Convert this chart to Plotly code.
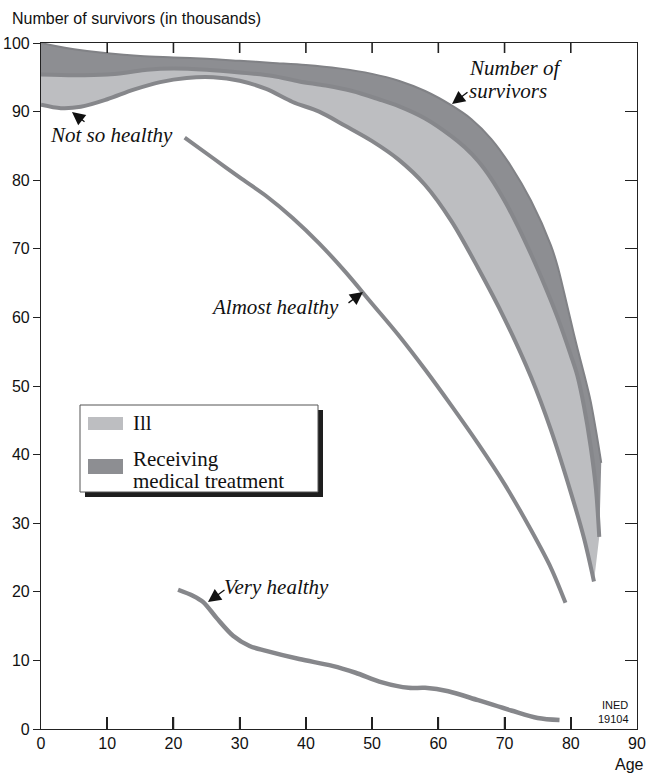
import plotly.graph_objects as go

# ---------------- data ----------------
total_age = [0, 2, 5, 10, 15, 20, 25, 30, 35, 40, 45, 50, 54, 58, 62, 65, 68, 71, 74, 77, 78, 79, 80, 81, 82, 83, 84, 84.6]
total_val = [100, 99.6, 99.1, 98.5, 98.1, 97.9, 97.7, 97.4, 97.1, 96.8, 96.3, 95.5, 94.5, 93.0, 90.9, 88.9, 86.0, 82.0, 77.0, 70.5, 67.5, 63.6, 59.5, 55.5, 51.8, 47.8, 42.4, 38.8]

treat_age = [0, 5, 10, 13, 16, 20, 25, 30, 35, 39, 43, 47, 51, 54, 58, 62, 64, 66, 68, 70, 72, 74, 76, 78, 80, 81, 82, 83, 83.8, 84.3]
treat_val = [95.4, 95.3, 95.4, 95.7, 96.1, 96.3, 96.1, 95.7, 95.2, 94.4, 93.8, 93.0, 91.8, 90.8, 89.0, 86.4, 84.8, 82.8, 80.2, 77.0, 73.3, 69.2, 64.8, 60.0, 54.5, 51.5, 47.0, 41.2, 35.0, 28.0]

notso_age = [0, 3, 6, 10, 14, 18, 22, 26, 30, 34, 38, 42, 46, 50, 54, 58, 62, 66, 70, 74, 77, 80, 82, 83.5]
notso_val = [91.0, 90.5, 90.7, 91.8, 93.2, 94.3, 94.9, 95.0, 94.5, 93.3, 91.4, 90.0, 87.9, 85.7, 83.0, 79.3, 74.0, 67.2, 59.8, 51.3, 43.6, 34.5, 27.8, 21.5]

almost_age = [21.7, 26, 30, 34, 38, 42, 46, 50, 54, 58, 62, 66, 70, 74, 77, 79.2]
almost_val = [86.2, 83.2, 80.4, 77.7, 74.5, 70.8, 66.6, 62.0, 57.4, 52.4, 47.1, 41.6, 35.7, 29.0, 23.5, 18.4]

very_age = [20.7, 23, 24.5, 26.5, 29, 31.5, 34, 39, 44, 47.5, 51.5, 55.5, 58, 61.5, 66, 71, 75, 78.3]
very_val = [20.3, 19.4, 18.5, 16.2, 13.6, 12.1, 11.4, 10.2, 9.2, 8.2, 6.8, 6.0, 6.0, 5.5, 4.2, 2.7, 1.6, 1.3]

x_ticks = [0, 10, 20, 30, 40, 50, 60, 70, 80, 90]
y_ticks = [0, 10, 20, 30, 40, 50, 60, 70, 80, 90, 100]

legend_labels = ["Ill", "Receiving", "medical treatment"]

# ---------------- styling ----------------
W, H = 647, 775
L, R, T, B = 41, 10, 43, 46
PW, PH = W - L - R, H - T - B

DARK = "#8d8e92"
LIGHT = "#bdbec1"
LINE = "#86878b"
SANS = "Liberation Sans, Arial, sans-serif"
SERIF = "Liberation Serif, Times New Roman, serif"
SM = 0.9


def pxp(x):
    return (x - L) / PW


def pyp(y):
    return (H - B - y) / PH


def dx(x):
    return (x - L) / PW * 90


def dy(y):
    return (H - B - y) / PH * 100


fig = go.Figure()

fig.add_trace(go.Scatter(x=notso_age, y=notso_val, mode="lines",
                         line=dict(color=LINE, width=4, shape="spline", smoothing=SM),
                         hoverinfo="skip", showlegend=False))
fig.add_trace(go.Scatter(x=treat_age, y=treat_val, mode="lines", fill="tonexty",
                         fillcolor=LIGHT,
                         line=dict(color=LINE, width=4, shape="spline", smoothing=SM),
                         hoverinfo="skip", showlegend=False))
fig.add_trace(go.Scatter(x=total_age, y=total_val, mode="lines", fill="tonexty",
                         fillcolor=DARK,
                         line=dict(color="#818286", width=2, shape="spline", smoothing=SM),
                         hoverinfo="skip", showlegend=False))
fig.add_trace(go.Scatter(x=almost_age, y=almost_val, mode="lines",
                         line=dict(color=LINE, width=4, shape="spline", smoothing=SM),
                         hoverinfo="skip", showlegend=False))
fig.add_trace(go.Scatter(x=very_age, y=very_val, mode="lines",
                         line=dict(color=LINE, width=4.5, shape="spline", smoothing=SM),
                         hoverinfo="skip", showlegend=False))
fig.add_trace(go.Scatter(x=[0, 90], y=[0, 100], xaxis="x2", yaxis="y2", mode="markers",
                         marker=dict(opacity=0), hoverinfo="skip", showlegend=False))

axis_common = dict(showgrid=False, zeroline=False, showline=True, linecolor="#222",
                   linewidth=1.2, tickcolor="#222", automargin=False)

fig.update_layout(
    width=W, height=H,
    margin=dict(l=L, r=R, t=T, b=B, autoexpand=False),
    paper_bgcolor="white", plot_bgcolor="white",
    font=dict(family=SANS, size=16, color="#111"),
    xaxis=dict(range=[0, 90], tickvals=x_ticks, ticks="inside", ticklen=12, tickwidth=1.6,
               mirror=True, tickfont=dict(family=SANS, size=16, color="#111"), **axis_common),
    yaxis=dict(range=[0, 100], tickvals=y_ticks, ticks="outside", ticklen=7, tickwidth=1.2,
               tickfont=dict(family=SANS, size=16, color="#111"), **axis_common),
    xaxis2=dict(range=[0, 90], overlaying="x", side="top", visible=False),
    yaxis2=dict(range=[0, 100], tickvals=y_ticks, ticks="inside", ticklen=12, tickwidth=1.2,
                overlaying="y", side="right", showticklabels=False, **axis_common),
)

shapes = []
# top tick marks (inside, pointing down)
for t in x_ticks[1:-1]:
    shapes.append(dict(type="line", xref="x", yref="paper", x0=t, x1=t,
                       y0=1, y1=1 - 10 / PH, line=dict(color="#222", width=1.6),
                       layer="above"))
# bottom tick marks (inside, pointing up)
for t in x_ticks[1:-1]:
    shapes.append(dict(type="line", xref="x", yref="paper", x0=t, x1=t,
                       y0=0, y1=12 / PH, line=dict(color="#222", width=1.6),
                       layer="above"))
shapes += [
    dict(type="rect", xref="paper", yref="paper", x0=pxp(85), x1=pxp(323), y0=pyp(497), y1=pyp(410),
         fillcolor="#1e1e1e", line=dict(width=0), layer="above"),
    dict(type="rect", xref="paper", yref="paper", x0=pxp(80), x1=pxp(318), y0=pyp(492), y1=pyp(405),
         fillcolor="white", line=dict(color="#555", width=1), layer="above"),
    dict(type="rect", xref="paper", yref="paper", x0=pxp(88), x1=pxp(123), y0=pyp(430), y1=pyp(417),
         fillcolor=LIGHT, line=dict(width=0), layer="above"),
    dict(type="rect", xref="paper", yref="paper", x0=pxp(88), x1=pxp(123), y0=pyp(474), y1=pyp(459),
         fillcolor=DARK, line=dict(width=0), layer="above"),
]
fig.update_layout(shapes=shapes)

ann = []
ann.append(dict(text="Number of survivors (in thousands)", xref="paper", yref="paper",
                x=pxp(10), y=pyp(18), xanchor="left", yanchor="middle", showarrow=False,
                font=dict(family=SANS, size=16, color="#111")))
ann.append(dict(text="Age", xref="paper", yref="paper", x=pxp(646), y=pyp(764),
                xanchor="right", yanchor="middle", showarrow=False,
                font=dict(family=SANS, size=16, color="#111")))
ann.append(dict(text="INED", xref="paper", yref="paper", x=pxp(630), y=pyp(705),
                xanchor="right", yanchor="middle", showarrow=False,
                font=dict(family=SANS, size=11, color="#111")))
ann.append(dict(text="19104", xref="paper", yref="paper", x=pxp(631), y=pyp(719),
                xanchor="right", yanchor="middle", showarrow=False,
                font=dict(family=SANS, size=11, color="#111")))

ann.append(dict(text=legend_labels[0], xref="paper", yref="paper", x=pxp(131), y=pyp(423),
                xanchor="left", yanchor="middle", showarrow=False,
                font=dict(family=SERIF, size=21, color="#111")))
ann.append(dict(text=legend_labels[1], xref="paper", yref="paper", x=pxp(131), y=pyp(459),
                xanchor="left", yanchor="middle", showarrow=False,
                font=dict(family=SERIF, size=21, color="#111")))
ann.append(dict(text=legend_labels[2], xref="paper", yref="paper", x=pxp(131), y=pyp(481),
                xanchor="left", yanchor="middle", showarrow=False,
                font=dict(family=SERIF, size=21, color="#111")))


def label(text, xl, yc):
    ann.append(dict(text=text, xref="paper", yref="paper", x=pxp(xl), y=pyp(yc),
                    xanchor="left", yanchor="middle", showarrow=False,
                    font=dict(family=SERIF, size=21, color="#111", style="italic")))


label("Number of", 467, 68)
label("survivors", 467, 91)
label("Not so healthy", 48, 135)
label("Almost healthy", 209, 307)
label("Very healthy", 222, 587)


def arrow(tipx, tipy, tailx, taily):
    ann.append(dict(text="", x=dx(tipx), y=dy(tipy), xref="x", yref="y",
                    ax=tailx - tipx, ay=taily - tipy, showarrow=True,
                    arrowhead=2, arrowsize=2.0, arrowwidth=1.3, arrowcolor="#111",
                    standoff=0))


arrow(452, 104, 469, 91)
arrow(72, 112, 86, 123)
arrow(363, 292, 347, 304)
arrow(208, 602, 226, 589)

fig.update_layout(annotations=ann)

fig.write_html("out.html", config={"displayModeBar": False},
               post_script="document.body.style.margin='0';document.body.style.padding='0';")
